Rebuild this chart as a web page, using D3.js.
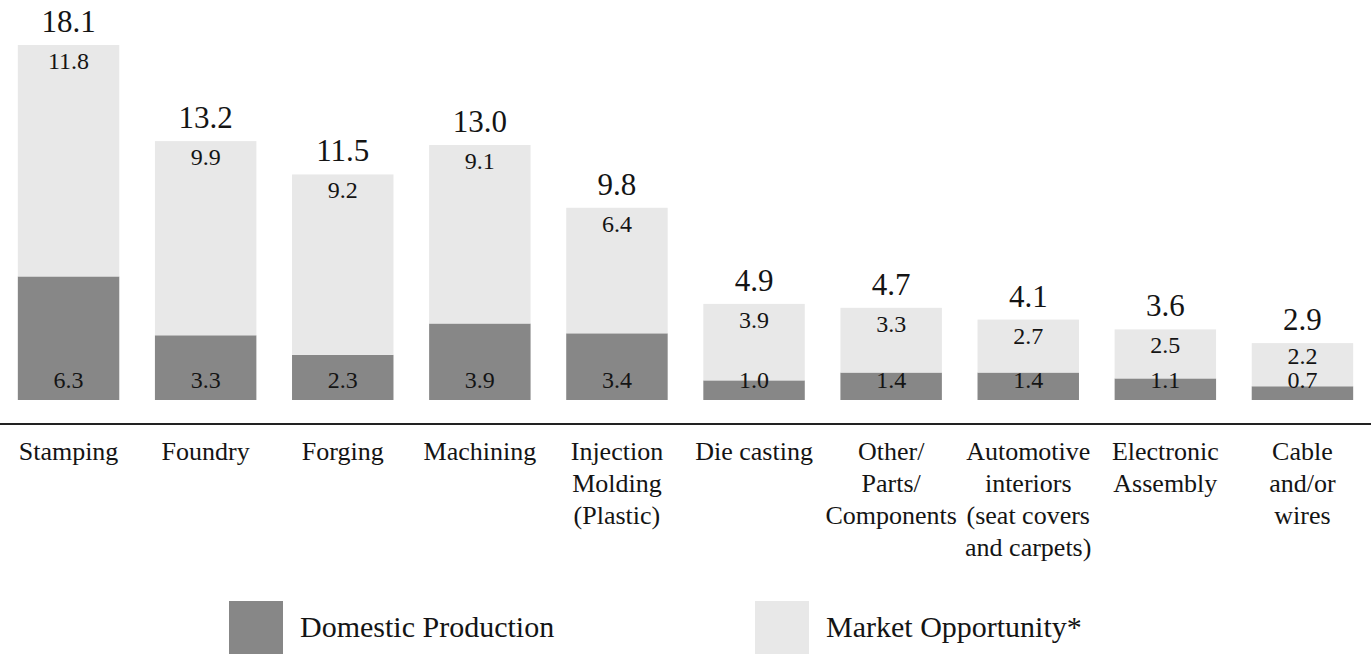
<!DOCTYPE html>
<html>
<head>
<meta charset="utf-8">
<script src="https://cdn.jsdelivr.net/npm/d3@7"></script>
<style>
  body { margin: 0; background: #fff; }
</style>
</head>
<body>
<div id="chart"></div>
<script>
const categories = [
  ["Stamping"],
  ["Foundry"],
  ["Forging"],
  ["Machining"],
  ["Injection", "Molding", "(Plastic)"],
  ["Die casting"],
  ["Other/", "Parts/", "Components"],
  ["Automotive", "interiors", "(seat covers", "and carpets)"],
  ["Electronic", "Assembly"],
  ["Cable", "and/or", "wires"]
];
const domestic    = [6.3, 3.3, 2.3, 3.9, 3.4, 1.0, 1.4, 1.4, 1.1, 0.7];
const opportunity = [11.8, 9.9, 9.2, 9.1, 6.4, 3.9, 3.3, 2.7, 2.5, 2.2];
const seriesNames = ["Domestic Production", "Market Opportunity*"];
const seriesColors = ["#878787", "#e8e8e8"];

const W = 1371, H = 654;
const BASE = 400;   // bar baseline
const AXIS_Y = 424;
const FONT = "'Liberation Serif', 'Times New Roman', serif";

const rows = categories.map((c, i) => ({
  key: i, label: c, dom: domestic[i], opp: opportunity[i]
}));

const svg = d3.select("#chart").append("svg")
  .attr("width", W).attr("height", H)
  .style("font-family", FONT);

const x = d3.scaleBand()
  .domain(rows.map(d => d.key))
  .range([0, W])
  .paddingInner(0.26)
  .paddingOuter(0.13);

const y = d3.scaleLinear()
  .domain([0, d3.max(rows, d => d.dom + d.opp)])
  .range([BASE, 45]);

const stack = d3.stack().keys(["dom", "opp"])(rows);

svg.append("g").selectAll("g")
  .data(stack)
  .join("g")
  .attr("fill", (_, i) => seriesColors[i])
  .selectAll("rect")
  .data(d => d)
  .join("rect")
  .attr("x", d => x(d.data.key))
  .attr("y", d => y(d[1]))
  .attr("width", x.bandwidth())
  .attr("height", d => y(d[0]) - y(d[1]));

const cx = d => x(d.key) + x.bandwidth() / 2;

function txt(g) {
  return g.attr("text-anchor", "middle")
    .attr("fill", "#141414")
    .style("font-family", FONT);
}

// totals above the bars
svg.append("g").selectAll("text")
  .data(rows)
  .join("text")
  .call(txt)
  .attr("x", cx)
  .attr("y", d => y(d.dom + d.opp) - 13)
  .style("font-size", "31px")
  .text(d => (d.dom + d.opp).toFixed(1));

// market opportunity values, near top of bar
svg.append("g").selectAll("text")
  .data(rows)
  .join("text")
  .call(txt)
  .attr("x", cx)
  .attr("y", d => Math.min(y(d.dom + d.opp) + 24, BASE - 36))
  .style("font-size", "24px")
  .text(d => d.opp.toFixed(1));

// domestic values, near baseline
svg.append("g").selectAll("text")
  .data(rows)
  .join("text")
  .call(txt)
  .attr("x", cx)
  .attr("y", BASE - 12)
  .style("font-size", "24px")
  .text(d => d.dom.toFixed(1));

// axis line
svg.append("line")
  .attr("x1", 0).attr("x2", W)
  .attr("y1", AXIS_Y).attr("y2", AXIS_Y)
  .attr("stroke", "#222")
  .attr("stroke-width", 2);

// category labels
const lab = svg.append("g").selectAll("text")
  .data(rows)
  .join("text")
  .call(txt)
  .attr("x", cx)
  .attr("y", 460)
  .style("font-size", "26px");

lab.selectAll("tspan")
  .data(d => d.label.map(t => ({ t, x: cx(d) })))
  .join("tspan")
  .attr("x", d => d.x)
  .attr("dy", (_, i) => i === 0 ? 0 : 32)
  .text(d => d.t);

// legend
const legendX = [229, 755];
const leg = svg.append("g").selectAll("g")
  .data(seriesNames)
  .join("g")
  .attr("transform", (_, i) => `translate(${legendX[i]},601)`);

leg.append("rect")
  .attr("width", 54).attr("height", 53)
  .attr("fill", (_, i) => seriesColors[i]);

leg.append("text")
  .attr("x", 71)
  .attr("y", 36)
  .attr("fill", "#141414")
  .style("font-family", FONT)
  .style("font-size", "30px")
  .text(d => d);
</script>
</body>
</html>
